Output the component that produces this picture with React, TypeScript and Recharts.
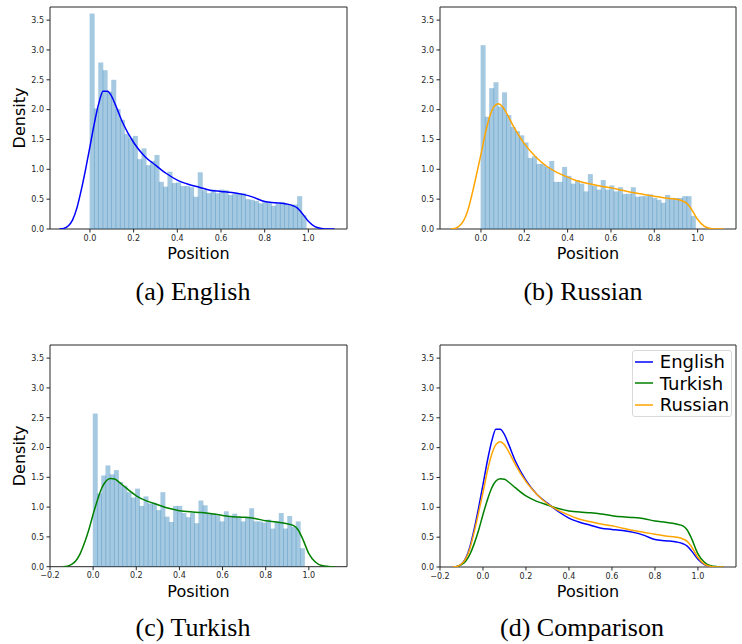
import React from "react";
import { ComposedChart, Bar, Line, XAxis, YAxis, ReferenceArea, Legend } from "recharts";

// histogram densities, 50 equal bins starting at 0
const englishBins = [
  3.61, 2.02, 2.79, 2.66, 2.3, 2.5, 2.01, 1.83, 1.59, 1.52,
  1.56, 1.17, 1.35, 1.07, 1.14, 1.24, 0.79, 0.71, 0.96, 0.77,
  0.78, 0.72, 0.72, 0.7, 0.54, 0.95, 0.65, 0.6, 0.66, 0.6,
  0.66, 0.65, 0.57, 0.59, 0.6, 0.6, 0.5, 0.49, 0.47, 0.43,
  0.47, 0.44, 0.39, 0.43, 0.45, 0.42, 0.4, 0.41, 0.55, 0.23,
];
const russianBins = [
  3.08, 1.88, 2.36, 2.46, 2.05, 2.29, 1.91, 1.71, 1.64, 1.57,
  1.45, 1.19, 1.22, 1.09, 1.09, 1.04, 1.14, 0.79, 0.79, 1.04,
  0.89, 0.76, 0.82, 0.76, 0.63, 0.92, 0.72, 0.66, 0.82, 0.66,
  0.73, 0.63, 0.7, 0.59, 0.59, 0.7, 0.54, 0.55, 0.55, 0.58,
  0.52, 0.49, 0.44, 0.57, 0.52, 0.52, 0.52, 0.55, 0.55, 0.22,
];
const turkishBins = [
  2.57, 1.23, 1.53, 1.7, 1.55, 1.62, 1.42, 1.36, 1.25, 1.16,
  1.31, 1.02, 1.18, 1.06, 1.07, 0.95, 1.25, 0.84, 0.75, 1.02,
  1.02, 0.9, 0.83, 0.9, 0.73, 1.11, 1.03, 0.89, 0.89, 0.86,
  0.76, 0.93, 0.84, 0.89, 0.84, 0.76, 0.84, 0.98, 0.76, 0.76,
  0.74, 0.79, 0.64, 0.76, 0.9, 0.64, 0.85, 0.67, 0.76, 0.31,
];
// right edge of the last bin
const englishEnd = 0.99;
const russianEnd = 0.99;
const turkishEnd = 0.98;

// kde curves
const kdeX = [
  -0.14, -0.12, -0.1, -0.08, -0.06, -0.04, -0.02, 0, 0.02, 0.04,
  0.06, 0.08, 0.1, 0.12, 0.15, 0.2, 0.25, 0.3, 0.35, 0.4,
  0.45, 0.5, 0.55, 0.6, 0.65, 0.7, 0.75, 0.8, 0.85, 0.9,
  0.93, 0.95, 0.97, 1.0, 1.03, 1.06, 1.09, 1.12,
];
const englishKde = [
  0, 0.01, 0.05, 0.15, 0.35, 0.65, 1.0, 1.38, 1.77, 2.1,
  2.31, 2.31, 2.22, 2.05, 1.78, 1.45, 1.22, 1.07, 0.93, 0.82,
  0.75, 0.7, 0.65, 0.63, 0.61, 0.58, 0.53, 0.46, 0.44, 0.42,
  0.39, 0.35, 0.27, 0.13, 0.04, 0.01, 0, 0,
];
const russianKde = [
  0, 0.01, 0.05, 0.14, 0.32, 0.6, 0.92, 1.25, 1.6, 1.88,
  2.05, 2.1, 2.05, 1.93, 1.72, 1.43, 1.22, 1.06, 0.95, 0.87,
  0.8, 0.76, 0.72, 0.69, 0.65, 0.61, 0.58, 0.55, 0.52, 0.5,
  0.47, 0.43, 0.34, 0.16, 0.05, 0.01, 0, 0,
];
const turkishKde = [
  0, 0.01, 0.04, 0.1, 0.22, 0.4, 0.62, 0.88, 1.12, 1.32,
  1.44, 1.48, 1.47, 1.42, 1.33, 1.19, 1.1, 1.04, 0.98, 0.94,
  0.92, 0.91, 0.89, 0.86, 0.84, 0.83, 0.81, 0.77, 0.75, 0.72,
  0.69, 0.62, 0.48, 0.22, 0.08, 0.02, 0.005, 0,
];

const yTicks = [0, 0.5, 1, 1.5, 2, 2.5, 3, 3.5];
const xTicksShort = [0, 0.2, 0.4, 0.6, 0.8, 1.0];
const xTicksLong = [-0.2, 0, 0.2, 0.4, 0.6, 0.8, 1.0];

const BLUE = "#0000ff";
const GREEN = "#008000";
const ORANGE = "#ffa500";
const HIST = "#1f77b4";
const INK = "#262626";
const Y_MAX = 3.72;
const Y_W = 50;
const X_H = 41;

const toBins = (heights: number[], end: number) =>
  heights.map((h, i) => ({ x: ((i + 0.5) * end) / heights.length, h }));
const toCurve = (ys: number[]) => kdeX.map((x, i) => ({ x, y: ys[i] }));
const fmt = (v: number) => (v < 0 ? "\u2212" : "") + Math.abs(v).toFixed(1);

const tickStyle = { fontSize: 8, fill: INK, fontFamily: "DejaVu Sans" };
const labelStyle = { fontSize: 16, fill: "#000", fontFamily: "DejaVu Sans", textAnchor: "middle" as const };

type Curve = { name: string; color: string; values: number[] };
type Rect = { left: number; top: number; right: number; bottom: number };

// legend keeps the order the curves were drawn in
const makeLegend = (order: string[]) => (props: any) => {
  const items = [...(props.payload || [])].sort(
    (a: any, b: any) => order.indexOf(a.value) - order.indexOf(b.value)
  );
  return (
    <div
      style={{
        width: 100,
        height: 67,
        boxSizing: "border-box",
        border: "1px solid #d9d9d9",
        borderRadius: 3,
        background: "rgba(255,255,255,0.8)",
        fontFamily: "DejaVu Sans",
        fontSize: 18,
        color: "#000",
      }}
    >
      {items.map((p: any) => (
        <div key={p.value} style={{ display: "flex", alignItems: "center", height: 21.6, paddingLeft: 2 }}>
          <svg width={18} height={4}>
            <line x1={0} y1={2} x2={18} y2={2} stroke={p.color} strokeWidth={1.5} />
          </svg>
          <span style={{ marginLeft: 6.5, lineHeight: "21.6px" }}>{p.value}</span>
        </div>
      ))}
    </div>
  );
};

function Panel(props: {
  box: { left: number; top: number; width: number; height: number };
  plot: Rect;
  xDomain: [number, number];
  xTicks: number[];
  bins?: number[];
  binEnd?: number;
  curves: Curve[];
  caption: string;
  captionX: number;
  captionY: number;
  yLabelX: number;
  legend?: boolean;
}) {
  const { box, plot, xDomain, xTicks, bins, binEnd = 1, curves } = props;
  const margin = {
    top: plot.top - box.top,
    right: box.left + box.width - plot.right,
    left: plot.left - box.left - Y_W,
    bottom: box.top + box.height - plot.bottom - X_H,
  };
  const plotW = plot.right - plot.left;
  const binPx = bins ? (plotW * (binEnd / bins.length)) / (xDomain[1] - xDomain[0]) : 0;
  const HistBar = (p: any) => {
    if (!p.height) return null;
    return <rect x={p.x - 0.35} y={p.y} width={binPx + 0.7} height={p.height} fill={HIST} fillOpacity={0.4} />;
  };

  return (
    <>
      <div style={{ position: "absolute", left: box.left, top: box.top }}>
        <ComposedChart
          width={box.width}
          height={box.height}
          data={bins ? toBins(bins, binEnd) : []}
          margin={margin}
          barCategoryGap={0}
          barGap={0}
        >
          <XAxis
            dataKey="x"
            type="number"
            domain={xDomain}
            ticks={xTicks}
            allowDataOverflow
            height={X_H}
            tickFormatter={fmt}
            tick={tickStyle}
            tickSize={3.5}
            tickMargin={2.5}
            tickLine={{ stroke: INK }}
            axisLine={false}
            label={{ value: "Position", position: "insideBottom", offset: 11, style: labelStyle }}
          />
          <XAxis xAxisId="kde" dataKey="x" type="number" domain={xDomain} allowDataOverflow hide />
          <YAxis
            type="number"
            domain={[0, Y_MAX]}
            ticks={yTicks}
            allowDataOverflow
            width={Y_W}
            tickFormatter={fmt}
            tick={tickStyle}
            tickSize={3.5}
            tickMargin={2.5}
            tickLine={{ stroke: INK }}
            axisLine={false}
            label={{
              value: "Density",
              angle: -90,
              position: "insideLeft",
              offset: props.yLabelX - (plot.left - Y_W),
              style: labelStyle,
            }}
          />
          {bins && <Bar dataKey="h" shape={HistBar} isAnimationActive={false} legendType="none" />}
          {curves.map((c) => (
            <Line
              key={c.name}
              xAxisId="kde"
              data={toCurve(c.values)}
              dataKey="y"
              name={c.name}
              type="monotone"
              stroke={c.color}
              strokeWidth={1.5}
              dot={false}
              activeDot={false}
              isAnimationActive={false}
            />
          ))}
          <ReferenceArea
            x1={xDomain[0]}
            x2={xDomain[1]}
            y1={0}
            y2={Y_MAX}
            fill="none"
            fillOpacity={0}
            stroke={INK}
            strokeWidth={1}
            ifOverflow="visible"
          />
          {props.legend && (
            <Legend
              layout="vertical"
              align="center"
              verticalAlign="middle"
              content={makeLegend(curves.map((c) => c.name))}
              wrapperStyle={{ left: 262.3, top: 20, width: 100, height: 67 }}
            />
          )}
        </ComposedChart>
      </div>
      <div
        style={{
          position: "absolute",
          left: props.captionX - 120,
          top: props.captionY - 15,
          width: 240,
          textAlign: "center",
          fontFamily: "Liberation Serif",
          fontSize: 26,
          lineHeight: "30px",
          color: "#000",
        }}
      >
        {props.caption}
      </div>
    </>
  );
}

export default function App() {
  return (
    <div style={{ position: "absolute", left: 0, top: 0, width: 742, height: 644, background: "#fff", overflow: "hidden" }}>
      <Panel
        box={{ left: 0, top: 0, width: 370, height: 270 }}
        plot={{ left: 50, top: 7, right: 347, bottom: 229 }}
        xDomain={[-0.183, 1.177]}
        xTicks={xTicksShort}
        bins={englishBins}
        binEnd={englishEnd}
        curves={[{ name: "English", color: BLUE, values: englishKde }]}
        caption="(a) English"
        captionX={193}
        captionY={292}
        yLabelX={19}
      />
      <Panel
        box={{ left: 370, top: 0, width: 372, height: 270 }}
        plot={{ left: 440, top: 7, right: 736, bottom: 229 }}
        xDomain={[-0.189, 1.177]}
        xTicks={xTicksShort}
        bins={russianBins}
        binEnd={russianEnd}
        curves={[{ name: "Russian", color: ORANGE, values: russianKde }]}
        caption="(b) Russian"
        captionX={583}
        captionY={292}
        yLabelX={408 - 370}
      />
      <Panel
        box={{ left: 0, top: 330, width: 370, height: 314 }}
        plot={{ left: 50, top: 345, right: 347, bottom: 566.7 }}
        xDomain={[-0.2, 1.177]}
        xTicks={xTicksLong}
        bins={turkishBins}
        binEnd={turkishEnd}
        curves={[{ name: "Turkish", color: GREEN, values: turkishKde }]}
        caption="(c) Turkish"
        captionX={193}
        captionY={628}
        yLabelX={19}
      />
      <Panel
        box={{ left: 370, top: 330, width: 372, height: 314 }}
        plot={{ left: 440, top: 345, right: 736, bottom: 567 }}
        xDomain={[-0.2, 1.177]}
        xTicks={xTicksLong}
        curves={[
          { name: "English", color: BLUE, values: englishKde },
          { name: "Turkish", color: GREEN, values: turkishKde },
          { name: "Russian", color: ORANGE, values: russianKde },
        ]}
        caption="(d) Comparison"
        captionX={582}
        captionY={628}
        yLabelX={408 - 370}
        legend
      />
    </div>
  );
}
